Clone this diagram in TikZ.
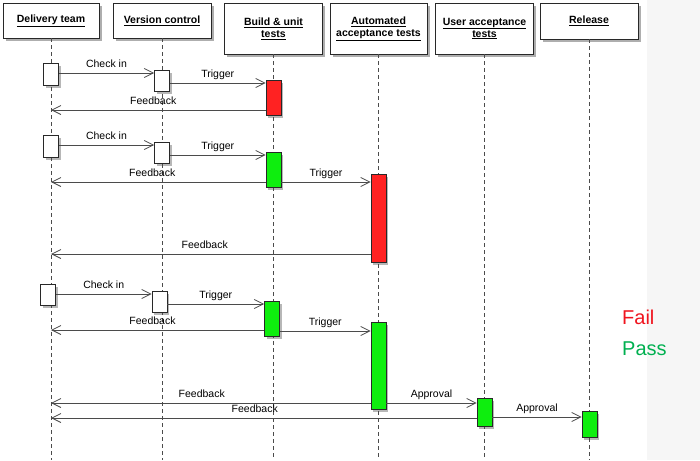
\documentclass[tikz,border=0pt]{standalone}
\usepackage{fontspec}
\setmainfont{Liberation Sans}
\usetikzlibrary{arrows.meta,shadows}
\definecolor{failred}{RGB}{255,34,34}
\definecolor{passgreen}{RGB}{14,238,14}
\definecolor{failtext}{RGB}{240,20,30}
\definecolor{passtext}{RGB}{0,176,80}
\definecolor{panel}{RGB}{246,246,246}
\definecolor{edge}{RGB}{40,40,40}
\definecolor{wire}{RGB}{75,75,75}
\begin{document}
\begin{tikzpicture}[x=1pt,y=-1pt,
  headbox/.style={draw=edge, fill=white, line width=0.9pt, inner sep=0pt, align=center,
    font=\bfseries\fontsize{10.5}{12}\selectfont,
    drop shadow={shadow xshift=2.5pt, shadow yshift=-3pt, opacity=0.45, fill=black!70}},
  actbox/.style={draw=edge, line width=0.9pt, inner sep=0pt, minimum width=15pt,
    drop shadow={shadow xshift=2pt, shadow yshift=-2.5pt, opacity=0.4, fill=black!70}},
  lifeline/.style={draw=wire, line width=0.8pt, dash pattern=on 4pt off 3pt},
  msg/.style={draw=wire, line width=0.8pt, -{Straight Barb[length=9pt,width=9pt,line width=0.8pt]}},
  lbl/.style={font=\fontsize{10.5}{12}\selectfont, anchor=base, yshift=6pt, inner sep=0pt}
]
\useasboundingbox (0,0) rectangle (700,460);
\fill[white] (0,0) rectangle (700,460);
\fill[panel] (647,0) rectangle (700,460);
\coordinate (bot) at (0,460);

% headers
\node[headbox, minimum width=96pt, minimum height=35pt] (h1) at (51,20.5) {\underline{Delivery team}};
\node[headbox, minimum width=98pt, minimum height=35pt] (h2) at (162,20.5) {\underline{Version control}};
\node[headbox, minimum width=98pt, minimum height=51pt] (h3) at (273.5,28.5) {\underline{Build \& unit}\\\underline{tests}};
\node[headbox, minimum width=97pt, minimum height=51pt] (h4) at (378.5,28.5) {\underline{Automated}\\\underline{acceptance tests}};
\node[headbox, minimum width=98pt, minimum height=51pt] (h5) at (484.5,28.5) {\underline{User acceptance}\\\underline{tests}};
\node[headbox, minimum width=98pt, minimum height=36pt] (h6) at (589,21) {\underline{Release}};

% lifelines
\foreach \h in {h1,h2,h3,h4,h5,h6}
  \draw[lifeline] (\h.south) -- (\h.south |- bot);

% round 1
\node[actbox, fill=white, minimum height=22pt] (d1) at (51,74) {};
\node[actbox, fill=white, minimum height=21pt] (v1) at (162,80.5) {};
\node[actbox, fill=failred, minimum height=35pt] (b1) at (273.5,97.5) {};
\draw[msg] (d1.east |- 0,73) -- node[lbl] {Check in} (v1.west |- 0,73);
\draw[msg] (v1.east |- 0,83) -- node[lbl] {Trigger} (b1.west |- 0,83);
\draw[msg] (b1.west |- 0,110) -- node[lbl, xshift=-5pt] {Feedback} (h1.south |- 0,110);

% round 2
\node[actbox, fill=white, minimum height=22pt] (d2) at (51,146) {};
\node[actbox, fill=white, minimum height=21pt] (v2) at (162,152.5) {};
\node[actbox, fill=passgreen, minimum height=35pt] (b2) at (273.5,169.5) {};
\node[actbox, fill=failred, minimum height=88pt] (a2) at (378.5,218) {};
\draw[msg] (d2.east |- 0,145) -- node[lbl] {Check in} (v2.west |- 0,145);
\draw[msg] (v2.east |- 0,155) -- node[lbl] {Trigger} (b2.west |- 0,155);
\draw[msg] (b2.west |- 0,182) -- node[lbl, xshift=-6pt] {Feedback} (h1.south |- 0,182);
\draw[msg] (b2.east |- 0,182) -- node[lbl] {Trigger} (a2.west |- 0,182);
\draw[msg] (a2.west |- 0,254) -- node[lbl, xshift=-6pt] {Feedback} (h1.south |- 0,254);

% round 3
\node[actbox, fill=white, minimum height=21pt] (d3) at (48,294.5) {};
\node[actbox, fill=white, minimum height=21pt] (v3) at (159.5,301.5) {};
\node[actbox, fill=passgreen, minimum height=35pt] (b3) at (272,318.5) {};
\node[actbox, fill=passgreen, minimum height=87pt] (a3) at (378.5,365.5) {};
\node[actbox, fill=passgreen, minimum height=28pt] (u3) at (484.5,412) {};
\node[actbox, fill=passgreen, minimum height=26pt] (r3) at (589.5,424) {};
\draw[msg] (d3.east |- 0,294) -- node[lbl] {Check in} (v3.west |- 0,294);
\draw[msg] (v3.east |- 0,304) -- node[lbl] {Trigger} (b3.west |- 0,304);
\draw[msg] (b3.west |- 0,330) -- node[lbl, xshift=-5pt] {Feedback} (h1.south |- 0,330);
\draw[msg] (b3.east |- 0,331) -- node[lbl] {Trigger} (a3.west |- 0,331);
\draw[msg] (a3.west |- 0,403) -- node[lbl, xshift=-9pt] {Feedback} (h1.south |- 0,403);
\draw[msg] (a3.east |- 0,403) -- node[lbl] {Approval} (u3.west |- 0,403);
\draw[msg] (u3.west |- 0,418) -- node[lbl, xshift=-9pt] {Feedback} (h1.south |- 0,418);
\draw[msg] (u3.east |- 0,417) -- node[lbl] {Approval} (r3.west |- 0,417);

% legend
\node[anchor=base west, inner sep=0pt, text=failtext, font=\fontsize{20}{24}\selectfont] (fail) at (622,324) {Fail};
\node[anchor=base west, inner sep=0pt, text=passtext, font=\fontsize{20}{24}\selectfont] (pass) at (622,355) {Pass};
\end{tikzpicture}
\end{document}
